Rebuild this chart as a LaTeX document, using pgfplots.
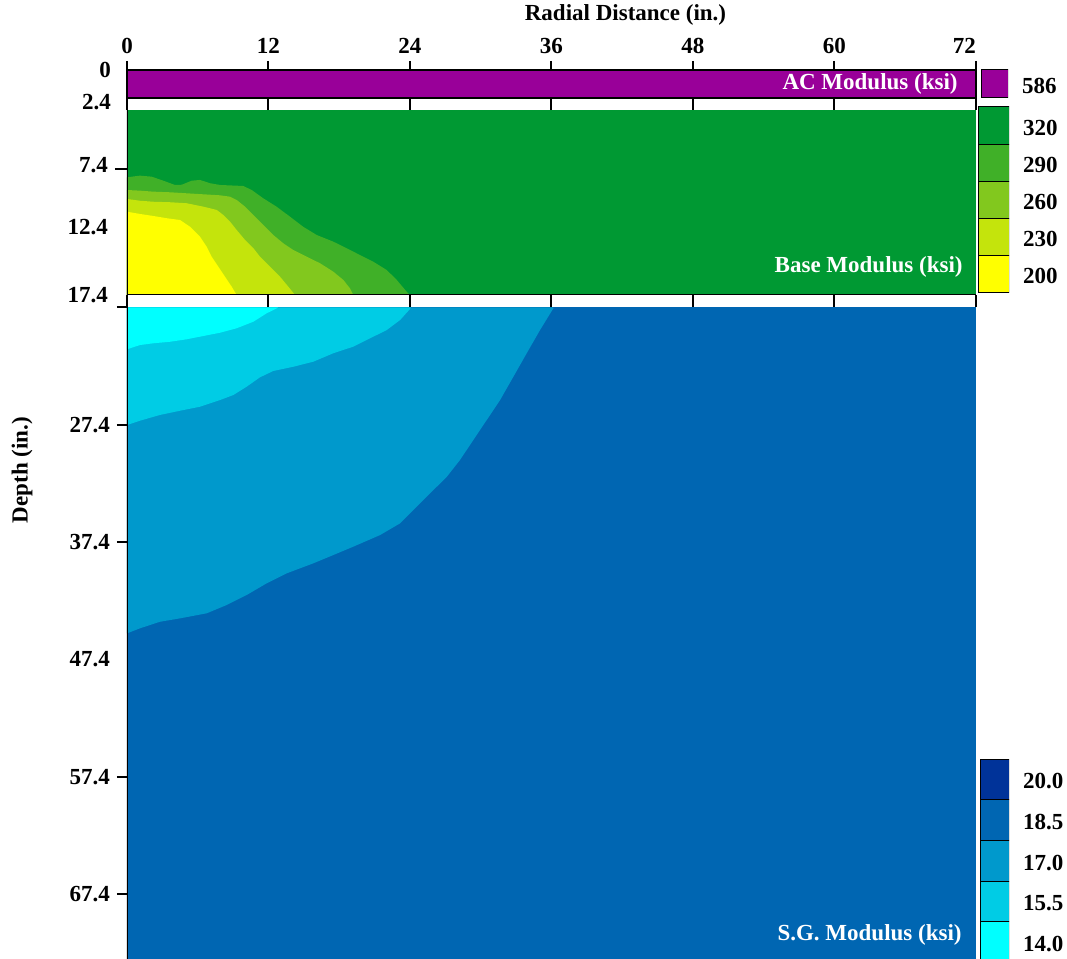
\documentclass[border=0pt]{standalone}
\usepackage{pgfplots}
\pgfplotsset{compat=1.18}
\usepackage{fontspec}
\setmainfont{Liberation Serif}

\definecolor{acpurple}{RGB}{153,0,153}
\definecolor{bg320}{RGB}{0,153,51}
\definecolor{bg290}{RGB}{64,176,40}
\definecolor{bg260}{RGB}{130,200,30}
\definecolor{bg230}{RGB}{196,228,12}
\definecolor{bg200}{RGB}{255,255,0}
\definecolor{sg200}{RGB}{0,51,153}
\definecolor{sg185}{RGB}{0,102,178}
\definecolor{sg170}{RGB}{0,153,204}
\definecolor{sg155}{RGB}{0,204,229}
\definecolor{sg140}{RGB}{0,255,255}

\newcommand{\lfont}{\fontsize{11.5}{13}\selectfont\bfseries}

\pgfplotsset{
  layer/.style={scale only axis, width=424.5pt, xmin=0, xmax=72, y dir=reverse,
    anchor=south west, tick label style={font=\lfont, text=black},
    tick align=outside, axis on top, xtick={0,12,24,36,48,60,72},
    tick style={black, line width=1pt}, axis line style={line width=0.6pt}},
  cbar/.style={scale only axis, anchor=south west, xmin=0, xmax=1, ymin=0,
    axis line style={draw=none}, xtick=\empty, yticklabel pos=right, ytick pos=right,
    major tick length=0pt, ytick style={draw=none}, tick label style={font=\lfont},
    yticklabel style={xshift=3.5pt, yshift=-1pt}},
}

\begin{document}
\begin{tikzpicture}
\useasboundingbox (0,0) rectangle (533.5pt,479.5pt);

% ---------------- AC layer ----------------
\begin{axis}[layer, at={(63.5pt,430.5pt)}, height=14pt, ymin=0, ymax=2.4,
  xtick pos=upper, xticklabel pos=upper,
  xticklabels={0,12,24,36,48,60,\llap{72}}, major tick length=4.5pt,
  ytick={0,2.4}, yticklabels={0,\raisebox{-2pt}[\height][\depth]{2.4}},
  ytick style={draw=none}, ytick pos=left]
\addplot[fill=acpurple, draw=none] coordinates {(0,0)(72,0)(72,2.4)(0,2.4)} --cycle;
\end{axis}

% ---------------- Base layer ----------------
\begin{axis}[layer, at={(63.5pt,332pt)}, height=92.5pt, ymin=2.72, ymax=17.4,
  axis line style={draw=none},
  xtick pos=both, xticklabels={}, major tick length=6pt,
  ytick={7.4}, yticklabels={\raisebox{2pt}[\height][\depth]{7.4}}, ytick pos=left,
  extra y ticks={12.4,17.4},
  extra y tick labels={\raisebox{2.5pt}[\height][\depth]{12.4},17.4},
  extra y tick style={major tick style={draw=none}}]
\addplot[fill=bg320, draw=none] coordinates {(0,2.72)(72,2.72)(72,17.4)(0,17.4)} --cycle;
\addplot[fill=bg290, draw=none] coordinates {(0,17.4)(0,8.06)(1.10,7.93)(2.09,8.01)(3.08,8.33)(4.07,8.67)(4.64,8.65)(5.49,8.33)(6.19,8.27)(7.04,8.53)(7.89,8.67)(9.86,8.75)(10.58,9.07)(11.56,9.73)(12.70,10.40)(13.83,11.19)(14.95,11.99)(16.09,12.64)(17.50,13.17)(18.63,13.69)(19.76,14.23)(20.89,14.76)(22.03,15.42)(22.88,16.21)(23.72,17.14)(24.0,17.4)} --cycle;
\addplot[fill=bg260, draw=none] coordinates {(0,17.4)(0,9.07)(1.10,9.12)(2.23,9.20)(3.65,9.25)(5.06,9.33)(6.47,9.41)(7.89,9.49)(8.74,9.60)(9.30,9.86)(10.01,10.39)(10.72,11.05)(11.56,11.84)(12.41,12.64)(13.26,13.30)(14.11,13.83)(15.24,14.36)(16.37,14.88)(17.50,15.55)(18.35,16.21)(18.91,16.87)(19.19,17.4)} --cycle;
\addplot[fill=bg230, draw=none] coordinates {(0,17.4)(0,9.78)(1.10,9.92)(2.23,10.00)(3.65,10.04)(5.06,10.12)(6.47,10.39)(7.61,10.65)(8.17,11.05)(8.74,11.58)(9.30,12.24)(10.01,13.03)(10.72,13.69)(11.28,14.36)(12.13,15.15)(12.98,15.95)(13.68,16.74)(14.25,17.4)} --cycle;
\addplot[fill=bg200, draw=none] coordinates {(0,17.4)(0,10.79)(1.10,10.97)(2.23,11.13)(3.37,11.31)(4.50,11.45)(5.34,11.98)(6.19,12.77)(6.76,13.57)(7.18,14.36)(7.74,15.15)(8.31,15.95)(8.88,16.74)(9.30,17.4)} --cycle;
\draw[line width=0.6pt] (axis cs:0,2.72) -- (axis cs:0,17.4) -- (axis cs:72,17.4);
\end{axis}

% ---------------- Subgrade ----------------
\begin{axis}[layer, at={(63.5pt,0pt)}, height=325.75pt, ymin=17.4, ymax=72.94,
  axis line style={draw=none}, xtick=\empty,
  ytick={17.4,27.4,37.4,57.4,67.4}, yticklabels={,27.4,37.4,57.4,67.4},
  ytick pos=left, major tick length=5pt,
  extra y ticks={47.4}, extra y tick labels={47.4},
  extra y tick style={major tick style={draw=none}}]
\addplot[fill=sg185, draw=none] coordinates {(0,17.4)(72,17.4)(72,72.94)(0,72.94)} --cycle;
\addplot[fill=sg170, draw=none] coordinates {(0,17.4)(0,45.18)(1.10,44.75)(2.80,44.19)(4.50,43.90)(6.76,43.47)(8.46,42.76)(10.15,41.91)(11.85,40.91)(13.55,40.06)(15.80,39.21)(17.50,38.50)(19.19,37.79)(21.46,36.80)(23.16,35.80)(24.29,34.66)(25.71,33.24)(27.13,31.82)(28.24,30.40)(29.37,28.70)(30.51,26.99)(31.64,25.29)(32.77,23.30)(33.90,21.30)(35.03,19.32)(36.16,17.47)(36.17,17.4)} --cycle;
\addplot[fill=sg155, draw=none] coordinates {(0,17.4)(0,27.42)(1.10,27.05)(2.80,26.56)(4.50,26.20)(6.19,25.86)(7.89,25.29)(9.02,24.86)(10.15,24.15)(11.28,23.35)(12.41,22.81)(14.11,22.45)(15.80,22.02)(17.50,21.30)(19.19,20.74)(20.89,19.89)(22.03,19.32)(23.16,18.47)(24.00,17.53)(24.06,17.4)} --cycle;
\addplot[fill=sg140, draw=none] coordinates {(0,17.4)(0,20.96)(1.10,20.60)(2.23,20.45)(3.65,20.32)(5.06,20.11)(6.47,19.83)(7.89,19.55)(9.30,19.17)(10.72,18.61)(11.85,17.89)(12.70,17.47)(12.80,17.4)} --cycle;
\draw[line width=0.6pt] (axis cs:0,17.4) -- (axis cs:0,72.94);
\end{axis}

% ---------------- Colour keys ----------------
\begin{axis}[cbar, at={(490.5pt,430.5pt)}, width=13.5pt, height=14pt, ymax=1,
  ytick={0.5}, yticklabels={586}]
\addplot[fill=acpurple, draw=black, line width=0.5pt] coordinates {(0,0)(1,0)(1,1)(0,1)} --cycle;
\end{axis}

\begin{axis}[cbar, at={(489pt,333pt)}, width=15.5pt, height=93pt, ymax=5,
  ytick={0.5,1.5,2.5,3.5,4.5}, yticklabels={200,230,260,290,320}]
\addplot[fill=bg200, draw=black, line width=0.5pt] coordinates {(0,0)(1,0)(1,1)(0,1)} --cycle;
\addplot[fill=bg230, draw=black, line width=0.5pt] coordinates {(0,1)(1,1)(1,2)(0,2)} --cycle;
\addplot[fill=bg260, draw=black, line width=0.5pt] coordinates {(0,2)(1,2)(1,3)(0,3)} --cycle;
\addplot[fill=bg290, draw=black, line width=0.5pt] coordinates {(0,3)(1,3)(1,4)(0,4)} --cycle;
\addplot[fill=bg320, draw=black, line width=0.5pt] coordinates {(0,4)(1,4)(1,5)(0,5)} --cycle;
\end{axis}

\begin{axis}[cbar, at={(490pt,-1.75pt)}, width=14.5pt, height=101.75pt, ymax=5,
  ytick={0.5,1.5,2.5,3.5,4.5}, yticklabels={14.0,15.5,17.0,18.5,20.0}]
\addplot[fill=sg140, draw=black, line width=0.5pt] coordinates {(0,0)(1,0)(1,1)(0,1)} --cycle;
\addplot[fill=sg155, draw=black, line width=0.5pt] coordinates {(0,1)(1,1)(1,2)(0,2)} --cycle;
\addplot[fill=sg170, draw=black, line width=0.5pt] coordinates {(0,2)(1,2)(1,3)(0,3)} --cycle;
\addplot[fill=sg185, draw=black, line width=0.5pt] coordinates {(0,3)(1,3)(1,4)(0,4)} --cycle;
\addplot[fill=sg200, draw=black, line width=0.5pt] coordinates {(0,4)(1,4)(1,5)(0,5)} --cycle;
\end{axis}

% ---------------- Titles and layer names ----------------
\node[font=\lfont] at (312.75pt,472pt) {Radial Distance (in.)};
\node[font=\lfont, rotate=90] at (11pt,244.5pt) {Depth (in.)};
\node[font=\lfont, text=white, anchor=east, inner sep=0pt] at (479pt,437.5pt) {AC Modulus (ksi)};
\node[font=\lfont, text=white, anchor=east, inner sep=0pt] at (481.5pt,346pt) {Base Modulus (ksi)};
\node[font=\lfont, text=white, anchor=east, inner sep=0pt] at (481pt,12pt) {S.G. Modulus (ksi)};
\end{tikzpicture}
\end{document}
